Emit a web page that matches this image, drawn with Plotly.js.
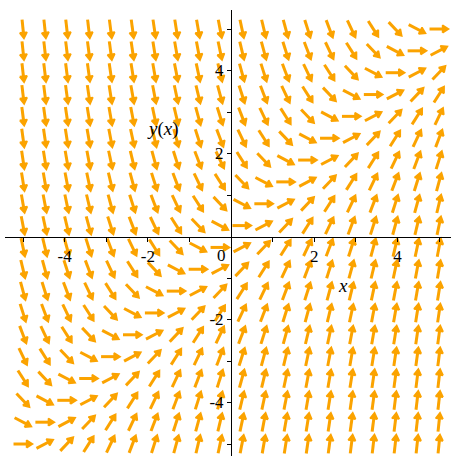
<!DOCTYPE html>
<html>
<head>
<meta charset="utf-8">
<script src="https://cdn.plot.ly/plotly-3.0.1.min.js"></script>
<style>
  html, body { margin: 0; padding: 0; background: #ffffff; }
  #plot { width: 451px; height: 456px; }
</style>
</head>
<body>
<div id="plot"></div>
<script>
// Direction field of the ODE  dy/dx = x - y(x), sampled on a 20 x 20 grid over [-5,5] x [-5,5]
const gridX = [-5, -4.474, -3.947, -3.421, -2.895, -2.368, -1.842, -1.316, -0.789, -0.263,
                0.263, 0.789, 1.316, 1.842, 2.368, 2.895, 3.421, 3.947, 4.474, 5];
const gridY = [-5, -4.474, -3.947, -3.421, -2.895, -2.368, -1.842, -1.316, -0.789, -0.263,
                0.263, 0.789, 1.316, 1.842, 2.368, 2.895, 3.421, 3.947, 4.474, 5];
const slope = (x, y) => x - y;

const xTickVals = [-5, -4, -3, -2, -1, 1, 2, 3, 4, 5];
const xTickText = ['', '-4', '', '-2', '', '', '2', '', '4', ''];
const yTickVals = [-5, -4, -3, -2, -1, 1, 2, 3, 4, 5];
const yTickText = ['', '-4', '', '-2', '', '', '2', '', '4', ''];

const xLabel = 'x';

// Page geometry
const W = 451, H = 456;
const xDomain = [5 / W, 1];
const yDomain = [0, 446 / H];
const xRange = [-5.433, 5.288];
const yRange = [-5.289, 5.458];

// pixels per data unit, used to keep arrows a constant screen length
const pxX = W * (xDomain[1] - xDomain[0]) / (xRange[1] - xRange[0]);
const pxY = H * (yDomain[1] - yDomain[0]) / (yRange[1] - yRange[0]);

const ARROW_LEN = 19;   // px
const HEAD_LEN = 7;     // px
const HEAD_ANG = 32 * Math.PI / 180;

const shaftX = [], shaftY = [];
const headX = [], headY = [];
gridX.forEach(x => {
  gridY.forEach(y => {
    const m = slope(x, y);
    // unit direction in screen space
    let ux = pxX, uy = m * pxY;
    const n = Math.hypot(ux, uy);
    ux /= n; uy /= n;
    const tailX = x - (ARROW_LEN / 2) * ux / pxX, tailY = y - (ARROW_LEN / 2) * uy / pxY;
    const tipX = x + (ARROW_LEN / 2) * ux / pxX, tipY = y + (ARROW_LEN / 2) * uy / pxY;
    // shaft stops a little short of the tip so the head stays pointed
    shaftX.push(tailX, tipX - 2 * ux / pxX, null);
    shaftY.push(tailY, tipY - 2 * uy / pxY, null);
    const c = Math.cos(HEAD_ANG), s = Math.sin(HEAD_ANG);
    const b1x = -(ux * c - uy * s), b1y = -(ux * s + uy * c);
    const b2x = -(ux * c + uy * s), b2y = -(-ux * s + uy * c);
    headX.push(tipX + HEAD_LEN * b1x / pxX, tipX, tipX + HEAD_LEN * b2x / pxX, tipX + HEAD_LEN * b1x / pxX, null);
    headY.push(tipY + HEAD_LEN * b1y / pxY, tipY, tipY + HEAD_LEN * b2y / pxY, tipY + HEAD_LEN * b1y / pxY, null);
  });
});

const ORANGE = '#FBA300';

const shafts = {
  type: 'scatter', mode: 'lines', x: shaftX, y: shaftY,
  line: { color: ORANGE, width: 3 },
  hoverinfo: 'skip', cliponaxis: false, showlegend: false
};
const heads = {
  type: 'scatter', mode: 'lines', x: headX, y: headY,
  fill: 'toself', fillcolor: ORANGE,
  line: { color: ORANGE, width: 1.6 },
  hoverinfo: 'skip', cliponaxis: false, showlegend: false
};

const tickFont = { family: 'Liberation Serif, Times New Roman, serif', size: 17, color: '#000000' };
const labelFont = { family: 'Liberation Serif, Times New Roman, serif', size: 19, color: '#000000' };

const axisCommon = {
  anchor: 'free',
  showgrid: false,
  zeroline: false,
  showline: true,
  linecolor: '#000000',
  linewidth: 1,
  ticks: 'outside',
  ticklen: 4,
  tickwidth: 1,
  tickcolor: '#000000',
  tickfont: tickFont,
  fixedrange: true
};

const layout = {
  width: W,
  height: H,
  margin: { l: 0, r: 0, t: 0, b: 0, pad: 0 },
  paper_bgcolor: '#ffffff',
  plot_bgcolor: '#ffffff',
  showlegend: false,
  xaxis: Object.assign({}, axisCommon, {
    domain: xDomain,
    range: xRange,
    position: (0 - yRange[0]) / (yRange[1] - yRange[0]) * (yDomain[1] - yDomain[0]) + yDomain[0],
    tickvals: xTickVals,
    ticktext: xTickText
  }),
  yaxis: Object.assign({}, axisCommon, {
    domain: yDomain,
    range: yRange,
    position: (0 - xRange[0]) / (xRange[1] - xRange[0]) * (xDomain[1] - xDomain[0]) + xDomain[0],
    tickvals: yTickVals,
    ticktext: yTickText
  }),
  annotations: [
    { x: 0, y: 0, xref: 'x', yref: 'y', text: '0', showarrow: false,
      xanchor: 'right', yanchor: 'top', xshift: -3, yshift: -7, font: tickFont },
    { x: 2.69, y: -1.19, xref: 'x', yref: 'y', text: '<i>' + xLabel + '</i>', showarrow: false,
      font: labelFont },
    { x: -1.63, y: 2.59, xref: 'x', yref: 'y', text: '<i>y</i>(<i>x</i>)', showarrow: false,
      font: labelFont }
  ]
};

Plotly.newPlot('plot', [shafts, heads], layout, { staticPlot: true, displayModeBar: false });
</script>
</body>
</html>
